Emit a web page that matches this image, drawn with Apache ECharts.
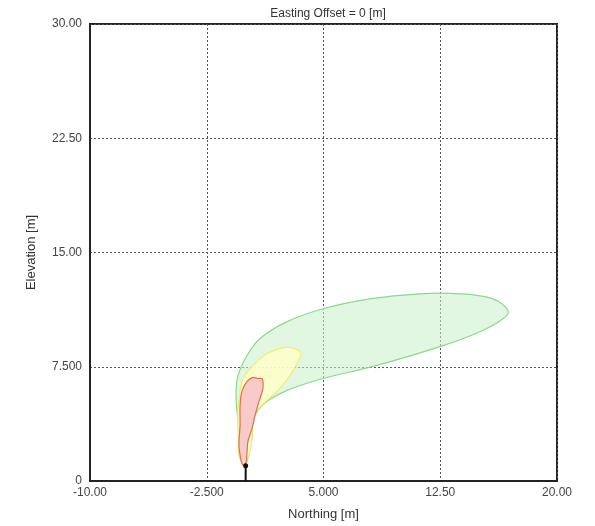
<!DOCTYPE html>
<html>
<head>
<meta charset="utf-8">
<script src="https://cdn.jsdelivr.net/npm/echarts@6/dist/echarts.min.js"></script>
<style>html,body{margin:0;padding:0;background:#fff}#c{width:595px;height:526px}</style>
</head>
<body>
<div id="c"></div>
<script>
const xTicks = ['-10.00', '-2.500', '5.000', '12.50', '20.00'];
const yTicks = ['0', '7.500', '15.00', '22.50', '30.00'];

const greenContour = [
  [-0.17, 1.05], [-0.49, 3.92], [-0.62, 5.62], [-0.49, 6.93], [0.09, 8.24],
  [0.92, 9.35], [2.66, 10.46], [4.97, 11.31], [7.98, 11.96], [11.19, 12.29],
  [13.76, 12.29], [15.89, 11.96], [16.85, 11.18], [16.53, 10.65], [15.05, 9.80],
  [12.48, 8.82], [8.18, 7.52], [4.97, 6.73], [2.66, 5.95], [1.37, 5.23],
  [0.79, 4.64], [0.47, 3.92], [0.41, 2.81], [0.15, 1.50], [-0.04, 1.05]
];
const yellowContour = [
  [3.55, 8.37], [3.17, 8.69], [2.40, 8.76], [1.37, 8.37], [0.47, 7.58],
  [-0.17, 6.73], [-0.36, 5.88], [-0.49, 4.58], [-0.49, 3.01], [-0.43, 1.70],
  [-0.24, 1.18], [-0.04, 1.18], [0.28, 1.96], [0.41, 2.81], [0.47, 4.12],
  [0.73, 4.64], [1.37, 5.29], [2.21, 6.08], [2.85, 6.93], [3.36, 7.84]
];
const redContour = [
  [0.79, 6.73], [0.47, 6.80], [0.09, 6.54], [-0.24, 5.88], [-0.36, 4.97],
  [-0.36, 3.66], [-0.43, 2.35], [-0.30, 1.37], [-0.17, 1.05], [0.02, 1.18],
  [0.09, 1.96], [0.15, 2.61], [0.41, 3.46], [0.60, 4.31], [0.86, 5.23],
  [1.11, 6.08], [1.11, 6.54], [1.05, 6.73]
];
const sourceStack = [[0, 0], [0, 1.0]];

function polySeries(name, pts, fill, stroke, z) {
  return {
    name: name,
    type: 'custom',
    coordinateSystem: 'cartesian2d',
    data: [0],
    renderItem: function (params, api) {
      const points = pts.map(p => api.coord(p));
      return {
        type: 'polygon',
        shape: { points: points, smooth: 0.35 },
        style: { fill: fill, stroke: stroke, lineWidth: 1.2 }
      };
    },
    silent: true,
    z: z
  };
}

const chart = echarts.init(document.getElementById('c'));
chart.setOption({
  animation: false,
  backgroundColor: '#fff',
  title: {
    text: 'Easting Offset = 0 [m]',
    left: 323, top: 3, textAlign: 'center',
    textStyle: { fontFamily: 'Liberation Sans', fontSize: 12, fontWeight: 'normal', color: '#333' }
  },
  grid: {
    left: 90, right: 38, top: 24, bottom: 43,
    show: true, borderColor: '#222', borderWidth: 2, backgroundColor: 'transparent'
  },
  xAxis: {
    type: 'value', min: -10, max: 20, interval: 7.5,
    name: 'Northing [m]', nameLocation: 'middle', nameGap: 27,
    nameTextStyle: { fontFamily: 'Liberation Sans', fontSize: 13, color: '#333' },
    axisLine: { show: true, onZero: false, lineStyle: { color: '#222', width: 2 } },
    axisTick: { show: false },
    axisLabel: {
      fontFamily: 'Liberation Sans', fontSize: 12, color: '#444', margin: 6,
      formatter: function (v) { const i = Math.round((v + 10) / 7.5); return xTicks[i] || ''; }
    },
    splitLine: { show: true, lineStyle: { color: '#555', type: [2, 2], width: 1 } }
  },
  yAxis: {
    type: 'value', min: 0, max: 30, interval: 7.5,
    name: 'Elevation [m]', nameLocation: 'middle', nameGap: 52, nameRotate: 90,
    nameTextStyle: { fontFamily: 'Liberation Sans', fontSize: 13, color: '#333' },
    axisLine: { show: true, onZero: false, lineStyle: { color: '#222', width: 2 } },
    axisTick: { show: false },
    axisLabel: {
      fontFamily: 'Liberation Sans', fontSize: 12, color: '#444', margin: 8,
      formatter: function (v) { const i = Math.round(v / 7.5); return yTicks[i] || ''; }
    },
    splitLine: { show: true, lineStyle: { color: '#555', type: [2, 2], width: 1 } }
  },
  series: [
    polySeries('green', greenContour, 'rgba(200,240,200,0.55)', '#8cd88c', 3),
    polySeries('yellow', yellowContour, 'rgba(255,255,200,0.85)', '#eeee7a', 4),
    polySeries('red', redContour, 'rgba(248,200,200,0.95)', '#e07050', 5),
    {
      type: 'line', data: sourceStack, z: 6,
      lineStyle: { color: '#111', width: 2 },
      symbol: 'circle',
      symbolSize: function (v, p) { return p.dataIndex === 1 ? 5 : 0; },
      itemStyle: { color: '#111' },
      silent: true
    }
  ]
});
</script>
</body>
</html>
